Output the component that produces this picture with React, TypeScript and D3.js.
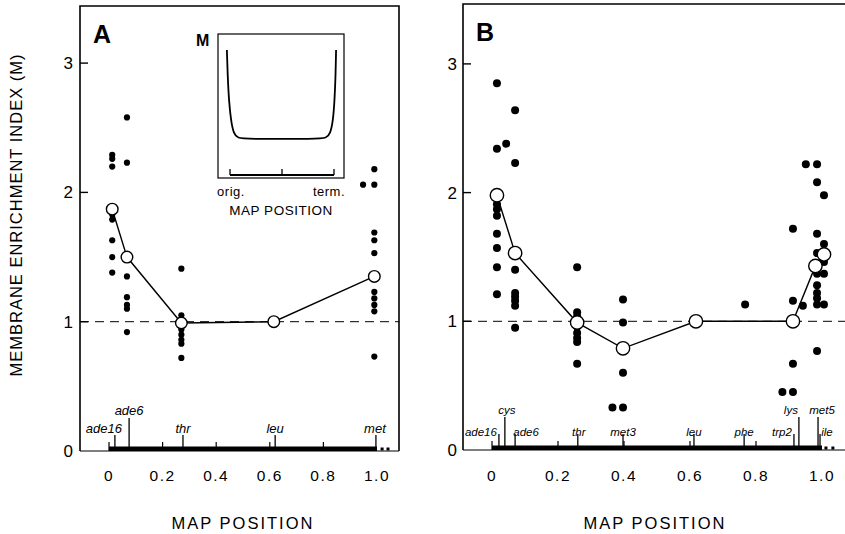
import React from 'react';
import * as d3 from 'd3';

// ---------- data ----------
const yTicks = [0, 1, 2, 3];
const xTicks = [0, 0.2, 0.4, 0.6, 0.8, 1.0];
const xTickLabels = ['0', '0.2', '0.4', '0.6', '0.8', '1.0'];
const axisTicks = [0, 0.2, 0.4, 0.6, 0.8];

// Panel A individual measurements [map position, M]
const dotsA: [number, number][] = [
  [0.012, 2.29], [0.012, 2.26], [0.012, 2.2], [0.012, 1.83], [0.012, 1.79], [0.012, 1.63], [0.012, 1.5], [0.012, 1.38],
  [0.067, 2.58], [0.067, 2.23], [0.067, 1.35], [0.067, 1.19], [0.067, 1.13], [0.067, 1.1], [0.067, 0.92],
  [0.27, 1.41], [0.27, 1.05], [0.27, 1.02], [0.27, 0.98], [0.27, 0.94], [0.27, 0.9], [0.27, 0.86], [0.27, 0.83], [0.27, 0.72],
  [0.99, 2.18], [0.948, 2.06], [0.99, 2.06], [0.99, 1.69], [0.99, 1.63], [0.99, 1.53], [0.99, 1.36], [0.99, 1.23],
  [0.99, 1.18], [0.99, 1.13], [0.99, 1.08], [0.99, 0.73],
];
// Panel A means
const meansA: [number, number][] = [
  [0.012, 1.87], [0.067, 1.5], [0.27, 0.99], [0.615, 1.0], [0.99, 1.35],
];
// Panel A genes [name, position, tall]
const genesA: [string, number, boolean][] = [
  ['ade16', 0.022, false], ['ade6', 0.075, true], ['thr', 0.276, false], ['leu', 0.62, false], ['met', 0.996, false],
];
const extraMarksA = [1.019, 1.041];

// Panel B individual measurements
const dotsB: [number, number][] = [
  [0.015, 2.85], [0.015, 2.34], [0.043, 2.38], [0.015, 1.91], [0.015, 1.87], [0.015, 1.82], [0.015, 1.68], [0.015, 1.57], [0.015, 1.42], [0.015, 1.21],
  [0.07, 2.64], [0.07, 2.23], [0.07, 1.4], [0.07, 1.22], [0.07, 1.19], [0.07, 1.16], [0.07, 1.12], [0.07, 0.95],
  [0.258, 1.42], [0.258, 1.07], [0.258, 1.04], [0.258, 1.01], [0.258, 0.96], [0.258, 0.91], [0.258, 0.87], [0.258, 0.84], [0.258, 0.67],
  [0.397, 1.17], [0.397, 0.99], [0.397, 0.6], [0.397, 0.33], [0.365, 0.33],
  [0.767, 1.13],
  [0.912, 1.72], [0.912, 1.16], [0.912, 0.67], [0.912, 0.45], [0.88, 0.45], [0.942, 1.12], [0.951, 2.22],
  [0.985, 2.22], [0.985, 2.08], [0.985, 1.68], [0.985, 1.53], [0.985, 1.37], [0.985, 1.28], [0.985, 1.22], [0.985, 1.18], [0.985, 1.13], [0.985, 0.77],
  [1.006, 1.98], [1.006, 1.6], [1.006, 1.46], [1.006, 1.37], [1.006, 1.13],
];
const meansB: [number, number][] = [
  [0.015, 1.98], [0.07, 1.53], [0.258, 0.99], [0.397, 0.79], [0.618, 1.0], [0.912, 1.0], [0.98, 1.43], [1.006, 1.52],
];
const genesB: [string, number, boolean][] = [
  ['ade16', 0.021, false], ['cys', 0.039, true], ['ade6', 0.07, false], ['thr', 0.26, false], ['met3', 0.397, false],
  ['leu', 0.612, false], ['phe', 0.764, false], ['trp2', 0.915, false], ['lys', 0.93, true], ['met5', 0.988, true], ['ile', 0.994, false],
];
const extraMarksB = [1.012, 1.033];

// Inset schematic curve (relative map position, M)
const insetCurve: [number, number][] = [
  [-0.03, 3.0], [-0.022, 2.4], [-0.01, 1.85], [0.01, 1.4], [0.035, 1.12], [0.075, 1.02], [0.15, 1.0],
  [0.85, 1.0], [0.925, 1.02], [0.965, 1.12], [0.99, 1.4], [1.005, 1.85], [1.015, 2.4], [1.02, 3.0],
];
const insetTicks = [0, 0.5, 1];

// ---------- styling ----------
const FONT = '"Liberation Sans", Arial, Helvetica, sans-serif';
const labelNudgeA: Record<string, number> = { ade16: -11, ade6: 0, thr: 0, leu: 0, met: -1 };
const labelNudgeB: Record<string, number> = {
  ade16: -18, cys: 2, ade6: 11, thr: 1, met3: 0, leu: 0, phe: 0, trp2: -12, lys: -8, met5: 4, ile: 7,
};

type PanelProps = {
  letter: string;
  left: number; right: number; top: number; bottom: number;
  x0: number; x1: number; yPerUnit: number;
  dots: [number, number][]; means: [number, number][];
  genes: [string, number, boolean][]; nudge: Record<string, number>;
  extra: number[];
  dotR: number; meanR: number; geneFont: number;
  shortBase: number; yLabelRight: number;
  titleX: number;
};

function Panel(p: PanelProps) {
  const x = d3.scaleLinear().domain([0, 1]).range([p.x0, p.x1]);
  const y = d3.scaleLinear().domain([0, 1]).range([p.bottom, p.bottom - p.yPerUnit]);
  const line = d3.line<[number, number]>().x(d => x(d[0])).y(d => y(d[1]));
  return (
    <g>
      {/* frame */}
      <path d={`M${p.left},${p.bottom} V${p.top} H${p.right} V${p.bottom}`} fill="none" stroke="#000" strokeWidth={1.6} />
      <line x1={p.left} x2={p.right} y1={p.bottom} y2={p.bottom} stroke="#000" strokeWidth={1.2} />
      {/* chromosome bar */}
      <rect x={x(0)} y={p.bottom - 4.5} width={x(1) - x(0)} height={4.5} fill="#000" />
      {p.extra.map((e, i) => (
        <rect key={i} x={x(e) - 1.5} y={p.bottom - 3.5} width={3} height={3} fill="#000" />
      ))}
      {axisTicks.map((t, i) => (
        <line key={i} x1={x(t)} x2={x(t)} y1={p.bottom} y2={p.bottom - 9} stroke="#000" strokeWidth={1.2} />
      ))}
      {/* genes */}
      {p.genes.map(([name, pos, tall], i) => (
        <g key={i}>
          <line x1={x(pos)} x2={x(pos)} y1={p.bottom} y2={p.bottom - (tall ? 33 : 16)} stroke="#000" strokeWidth={1.3} />
          <text x={x(pos) + (p.nudge[name] || 0)} y={tall ? p.bottom - 36 : p.shortBase}
            textAnchor="middle" fontStyle="italic" fontSize={p.geneFont} fontFamily={FONT}>{name}</text>
        </g>
      ))}
      {/* y ticks */}
      {yTicks.map((t, i) => (
        <g key={i}>
          {t > 0 && <line x1={p.left} x2={p.left + 8} y1={y(t)} y2={y(t)} stroke="#000" strokeWidth={1.4} />}
          <text x={p.yLabelRight} y={y(t) + 6} textAnchor="end" fontSize={17} fontFamily={FONT}>{t}</text>
        </g>
      ))}
      {/* x tick labels */}
      {xTicks.map((t, i) => (
        <text key={i} x={x(t)} y={481} textAnchor="middle" fontSize={15.5} fontFamily={FONT} letterSpacing={1.5}>{xTickLabels[i]}</text>
      ))}
      <text x={p.titleX} y={529} textAnchor="middle" fontSize={16.5} fontFamily={FONT} letterSpacing={2}>MAP POSITION</text>
      {/* reference line */}
      <line x1={p.left} x2={p.right} y1={y(1)} y2={y(1)} stroke="#000" strokeWidth={1} strokeDasharray="9,6" />
      {/* dots */}
      {p.dots.map((d, i) => (
        <circle key={i} cx={x(d[0])} cy={y(d[1])} r={p.dotR} fill="#000" />
      ))}
      {/* mean line */}
      <path d={line(p.means) || ''} fill="none" stroke="#000" strokeWidth={1.4} />
      {p.means.map((d, i) => (
        <circle key={i} cx={x(d[0])} cy={y(d[1])} r={p.meanR} fill="#fff" stroke="#000" strokeWidth={1.4} />
      ))}
      {/* panel letter */}
      <text x={p.left + 13} y={p.top + 37} fontSize={25} fontWeight="bold" fontFamily={FONT}>{p.letter}</text>
    </g>
  );
}

function Inset() {
  const left = 218, right = 344, top = 34, bottom = 178;
  const x = d3.scaleLinear().domain([0, 1]).range([230, 334]);
  const y = d3.scaleLinear().domain([1, 3]).range([139, 50]);
  const line = d3.line<[number, number]>().x(d => x(d[0])).y(d => y(d[1])).curve(d3.curveBasis);
  return (
    <g>
      <rect x={left} y={top} width={right - left} height={bottom - top} fill="#fff" stroke="#000" strokeWidth={1.2} />
      <path d={line(insetCurve) || ''} fill="none" stroke="#000" strokeWidth={1.8} />
      <line x1={x(0)} x2={x(1)} y1={bottom - 3} y2={bottom - 3} stroke="#000" strokeWidth={2} />
      {insetTicks.map((t, i) => (
        <line key={i} x1={x(t)} x2={x(t)} y1={bottom - 3} y2={bottom - 9} stroke="#000" strokeWidth={1.3} />
      ))}
      <text x={left - 22} y={46} fontSize={16} fontFamily={FONT} fontWeight="bold">M</text>
      <text x={231} y={196} textAnchor="middle" fontSize={13} fontFamily={FONT} letterSpacing={0.5}>orig.</text>
      <text x={329} y={196} textAnchor="middle" fontSize={13} fontFamily={FONT} letterSpacing={0.5}>term.</text>
      <text x={281} y={215} textAnchor="middle" fontSize={13.5} fontFamily={FONT} letterSpacing={0.5}>MAP POSITION</text>
    </g>
  );
}

export default function App() {
  return (
    <svg width={845} height={534} style={{ position: 'absolute', left: 0, top: 0, background: '#fff' }}>
      <rect width={845} height={534} fill="#fff" />
      <text transform="translate(22,215) rotate(-90)" textAnchor="middle" fontSize={16.5} fontFamily={FONT} letterSpacing={1}>
        MEMBRANE ENRICHMENT INDEX (M)
      </text>
      <Panel letter="A" left={80} right={399} top={6} bottom={451} x0={109} x1={377} yPerUnit={129.3}
        dots={dotsA} means={meansA} genes={genesA} nudge={labelNudgeA} extra={extraMarksA}
        dotR={3.1} meanR={5.8} geneFont={13} shortBase={433} yLabelRight={73} titleX={243} />
      <Inset />
      <Panel letter="B" left={463} right={852} top={4} bottom={450} x0={492} x1={822} yPerUnit={128.7}
        dots={dotsB} means={meansB} genes={genesB} nudge={labelNudgeB} extra={extraMarksB}
        dotR={4} meanR={6.7} geneFont={11.5} shortBase={436} yLabelRight={457} titleX={655} />
    </svg>
  );
}
